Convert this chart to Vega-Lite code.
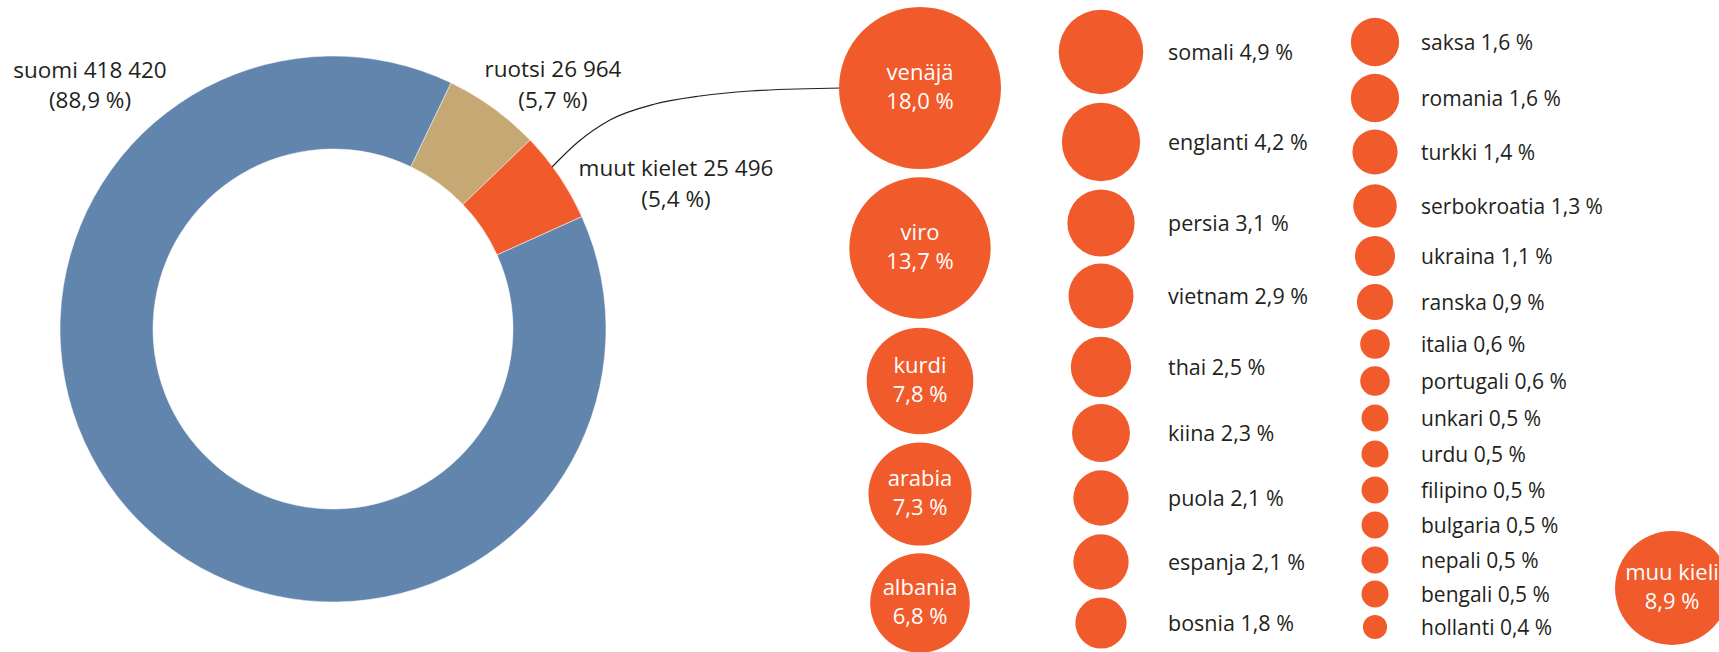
{
  "$schema": "https://vega.github.io/schema/vega-lite/v6.json",
  "width": 1719,
  "height": 652,
  "padding": 0,
  "autosize": {"type": "none"},
  "background": "white",
  "config": {"view": {"stroke": null}, "text": {"font": "Open Sans"}},
  "datasets": {
    "donut": [
      {"lang": "ruotsi", "n": 26964, "ord": 1, "x": 333, "y": 329},
      {"lang": "muut kielet", "n": 25496, "ord": 2, "x": 333, "y": 329},
      {"lang": "suomi", "n": 418420, "ord": 3, "x": 333, "y": 329}
    ],
    "connector": [
      {"x": 552, "y": 167},
      {"x": 578, "y": 142},
      {"x": 610, "y": 120},
      {"x": 655, "y": 104},
      {"x": 700, "y": 96},
      {"x": 750, "y": 91},
      {"x": 842, "y": 88}
    ],
    "bubbles": [
      {"name": "venäjä", "pct": 18.0, "txt": "18,0 %", "col": 1, "x": 920, "y": 88},
      {"name": "viro", "pct": 13.7, "txt": "13,7 %", "col": 1, "x": 920, "y": 248},
      {"name": "kurdi", "pct": 7.8, "txt": "7,8 %", "col": 1, "x": 920, "y": 381},
      {"name": "arabia", "pct": 7.3, "txt": "7,3 %", "col": 1, "x": 920, "y": 494},
      {"name": "albania", "pct": 6.8, "txt": "6,8 %", "col": 1, "x": 920, "y": 603},
      {"name": "somali", "pct": 4.9, "txt": "somali 4,9 %", "col": 2, "x": 1101, "y": 52},
      {"name": "englanti", "pct": 4.2, "txt": "englanti 4,2 %", "col": 2, "x": 1101, "y": 142},
      {"name": "persia", "pct": 3.1, "txt": "persia 3,1 %", "col": 2, "x": 1101, "y": 223},
      {"name": "vietnam", "pct": 2.9, "txt": "vietnam 2,9 %", "col": 2, "x": 1101, "y": 296},
      {"name": "thai", "pct": 2.5, "txt": "thai 2,5 %", "col": 2, "x": 1101, "y": 367},
      {"name": "kiina", "pct": 2.3, "txt": "kiina 2,3 %", "col": 2, "x": 1101, "y": 433},
      {"name": "puola", "pct": 2.1, "txt": "puola 2,1 %", "col": 2, "x": 1101, "y": 498},
      {"name": "espanja", "pct": 2.1, "txt": "espanja 2,1 %", "col": 2, "x": 1101, "y": 562},
      {"name": "bosnia", "pct": 1.8, "txt": "bosnia 1,8 %", "col": 2, "x": 1101, "y": 623},
      {"name": "saksa", "pct": 1.6, "txt": "saksa 1,6 %", "col": 3, "x": 1375, "y": 42},
      {"name": "romania", "pct": 1.6, "txt": "romania 1,6 %", "col": 3, "x": 1375, "y": 98},
      {"name": "turkki", "pct": 1.4, "txt": "turkki 1,4 %", "col": 3, "x": 1375, "y": 152},
      {"name": "serbokroatia", "pct": 1.3, "txt": "serbokroatia 1,3 %", "col": 3, "x": 1375, "y": 206},
      {"name": "ukraina", "pct": 1.1, "txt": "ukraina 1,1 %", "col": 3, "x": 1375, "y": 256},
      {"name": "ranska", "pct": 0.9, "txt": "ranska 0,9 %", "col": 3, "x": 1375, "y": 302},
      {"name": "italia", "pct": 0.6, "txt": "italia 0,6 %", "col": 3, "x": 1375, "y": 344},
      {"name": "portugali", "pct": 0.6, "txt": "portugali 0,6 %", "col": 3, "x": 1375, "y": 381},
      {"name": "unkari", "pct": 0.5, "txt": "unkari 0,5 %", "col": 3, "x": 1375, "y": 418},
      {"name": "urdu", "pct": 0.5, "txt": "urdu 0,5 %", "col": 3, "x": 1375, "y": 454},
      {"name": "filipino", "pct": 0.5, "txt": "filipino 0,5 %", "col": 3, "x": 1375, "y": 490},
      {"name": "bulgaria", "pct": 0.5, "txt": "bulgaria 0,5 %", "col": 3, "x": 1375, "y": 525},
      {"name": "nepali", "pct": 0.5, "txt": "nepali 0,5 %", "col": 3, "x": 1375, "y": 560},
      {"name": "bengali", "pct": 0.5, "txt": "bengali 0,5 %", "col": 3, "x": 1375, "y": 594},
      {"name": "hollanti", "pct": 0.4, "txt": "hollanti 0,4 %", "col": 3, "x": 1375, "y": 627},
      {"name": "muu kieli", "pct": 8.9, "txt": "8,9 %", "col": 4, "x": 1672, "y": 588}
    ],
    "notes": [
      {"text": "suomi 418 420", "x": 90, "y": 78},
      {"text": "(88,9 %)", "x": 90, "y": 108},
      {"text": "ruotsi 26 964", "x": 553, "y": 77},
      {"text": "(5,7 %)", "x": 553, "y": 108},
      {"text": "muut kielet 25 496", "x": 676, "y": 176},
      {"text": "(5,4 %)", "x": 676, "y": 207}
    ]
  },
  "encoding": {
    "x": {"field": "x", "type": "quantitative", "scale": {"domain": [0, 1719], "nice": false, "zero": false}, "axis": null},
    "y": {"field": "y", "type": "quantitative", "scale": {"domain": [0, 652], "nice": false, "zero": false, "reverse": true}, "axis": null}
  },
  "layer": [
    {
      "data": {"name": "donut"},
      "mark": {"type": "arc", "outerRadius": 273, "innerRadius": 180, "stroke": "white", "strokeWidth": 0.5},
      "encoding": {
        "theta": {"field": "n", "type": "quantitative", "scale": {"range": [0.4468, 6.73]}},
        "order": {"field": "ord", "type": "quantitative"},
        "color": {"field": "lang", "type": "nominal", "scale": {"domain": ["suomi", "ruotsi", "muut kielet"], "range": ["#6285AE", "#C5A874", "#F15A2B"]}, "legend": null}
      }
    },
    {
      "data": {"name": "connector"},
      "mark": {"type": "line", "interpolate": "monotone", "color": "#231F20", "strokeWidth": 1.2},
      "encoding": {"order": {"field": "x", "type": "quantitative"}}
    },
    {
      "data": {"name": "bubbles"},
      "mark": {"type": "circle", "color": "#F15A2B", "opacity": 1},
      "encoding": {
        "size": {"field": "pct", "type": "quantitative", "scale": {"type": "linear", "domain": [0, 18], "range": [0, 26244], "zero": true}, "legend": null}
      }
    },
    {
      "data": {"name": "bubbles"},
      "transform": [{"filter": "datum.col == 1 || datum.col == 4"}],
      "mark": {"type": "text", "color": "white", "fontSize": 22, "align": "center", "baseline": "alphabetic", "dy": -8},
      "encoding": {"text": {"field": "name"}}
    },
    {
      "data": {"name": "bubbles"},
      "transform": [{"filter": "datum.col == 1 || datum.col == 4"}],
      "mark": {"type": "text", "color": "white", "fontSize": 22, "align": "center", "baseline": "alphabetic", "dy": 21},
      "encoding": {"text": {"field": "txt"}}
    },
    {
      "data": {"name": "bubbles"},
      "transform": [{"filter": "datum.col == 2"}],
      "mark": {"type": "text", "color": "#231F20", "fontSize": 21.5, "align": "left", "baseline": "alphabetic", "dx": 67, "dy": 7.5},
      "encoding": {"text": {"field": "txt"}}
    },
    {
      "data": {"name": "bubbles"},
      "transform": [{"filter": "datum.col == 3"}],
      "mark": {"type": "text", "color": "#231F20", "fontSize": 21, "align": "left", "baseline": "alphabetic", "dx": 46, "dy": 7.5},
      "encoding": {"text": {"field": "txt"}}
    },
    {
      "data": {"name": "notes"},
      "mark": {"type": "text", "color": "#231F20", "fontSize": 22.5, "align": "center", "baseline": "alphabetic"},
      "encoding": {"text": {"field": "text"}}
    }
  ]
}
